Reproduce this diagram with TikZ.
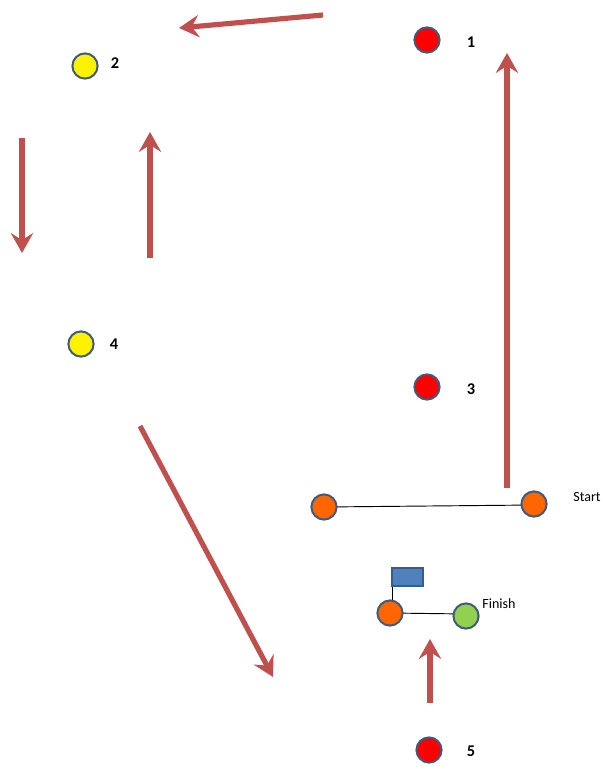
\documentclass[tikz,border=0pt]{standalone}
\usepackage{fontspec}
\setmainfont{Carlito}
\usepackage{tikz}
\usetikzlibrary{arrows.meta}
\definecolor{arrowred}{HTML}{C0504D}
\definecolor{ringblue}{HTML}{3F5A7A}
\definecolor{flagblue}{HTML}{4F81BD}
\definecolor{flagedge}{HTML}{385D8A}
\definecolor{markgreen}{HTML}{92D050}
\definecolor{markorange}{HTML}{FF6600}
\tikzstyle{arrow} = [arrowred, line width=4.4pt, -{Stealth[length=17pt,width=19pt,inset=6pt]}]
\tikzstyle{cone} = [circle, draw=ringblue, line width=1.7pt, minimum size=21.5pt, inner sep=0pt]
\tikzstyle{num} = [font=\fontsize{14}{16}\selectfont\bfseries]
\tikzstyle{tag} = [font=\fontsize{12}{14}\selectfont]

\begin{document}
\begin{tikzpicture}[x=0.03cm, y=-0.03cm]
\useasboundingbox (0,0) rectangle (603,767);
% cones
\node[cone, fill=red] (c1) at (427,40) {};
\node[num] (n1) at (471,42) {1};
\node[cone, fill=yellow] (c2) at (85,66) {};
\node[num] (n2) at (115,63) {2};
\node[cone, fill=yellow] (c4) at (81,344) {};
\node[num] (n4) at (114,344) {4};
\node[cone, fill=red] (c3) at (427,387) {};
\node[num] (n3) at (471,389) {3};
\node[cone, fill=red] (c5) at (429,750) {};
\node[num] (n5) at (471,751) {5};
% start gate
\draw[thick] (324,507) -- (534,505);
\node[cone, fill=markorange] (s1) at (324,507) {};
\node[cone, fill=markorange] (s2) at (534,504) {};
\node[tag] (start) at (587,497) {Start};
% finish gate
\draw[thick] (390,613) -- (466,614);
\draw[thick] (392,577) -- (392,613);
\draw[fill=flagblue, draw=flagedge, line width=1pt] (392,568) rectangle (423,586);
\node[cone, fill=markorange] (f1) at (390,613) {};
\node[cone, fill=markgreen] (f2) at (466,616) {};
\node[tag] (finish) at (499,604) {Finish};
% route
\coordinate (a1) at (323,15);  \coordinate (b1) at (179,28);
\coordinate (a2) at (507,488); \coordinate (b2) at (507,53);
\coordinate (a3) at (22,138);  \coordinate (b3) at (22,253);
\coordinate (a4) at (150,258); \coordinate (b4) at (150,132);
\coordinate (a5) at (140,426); \coordinate (b5) at (273,677);
\coordinate (a6) at (430,703); \coordinate (b6) at (430,639);
\draw[arrow] (a1) -- (b1);
\draw[arrow] (a2) -- (b2);
\draw[arrow] (a3) -- (b3);
\draw[arrow] (a4) -- (b4);
\draw[arrow] (a5) -- (b5);
\draw[arrow] (a6) -- (b6);
\end{tikzpicture}
\end{document}
